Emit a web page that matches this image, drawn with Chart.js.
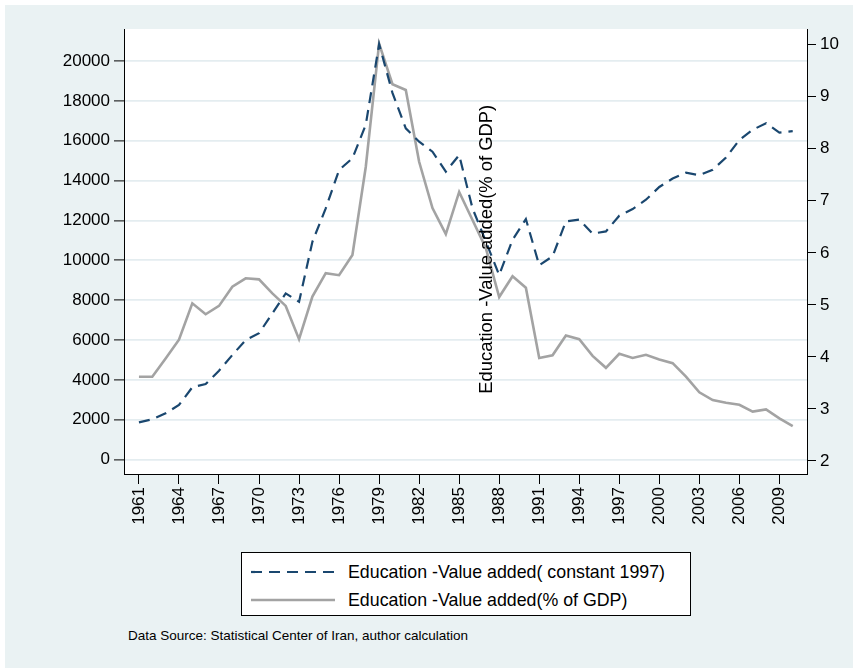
<!DOCTYPE html>
<html>
<head>
<meta charset="utf-8">
<script src="https://cdn.jsdelivr.net/npm/chart.js@4.4.1/dist/chart.umd.min.js"></script>
<style>
  body { margin: 0; background: #fff; }
  #frame { position: absolute; left: 5px; top: 5px; width: 848px; height: 663px; background: #eaf2f3; }
  #chart { position: absolute; left: 0; top: 0; }
  #legend { position: absolute; left: 241px; top: 552px; width: 448px; height: 62px; background: #fff;
            border: 1px solid #000; font-family: Arial, "Liberation Sans", sans-serif; font-size: 17.8px; color: #000; }
  .item { position: absolute; left: 0; height: 28px; line-height: 28px; white-space: nowrap; }
  .item svg { position: absolute; left: 8px; top: 0; }
  .item span { position: absolute; left: 106px; top: 0; }
  #note { position: absolute; left: 128px; top: 628px; font-family: Arial, "Liberation Sans", sans-serif;
          font-size: 13.5px; color: #000; white-space: nowrap; }
</style>
</head>
<body>
<div id="frame"></div>
<canvas id="chart" width="853" height="545"></canvas>
<div id="legend"></div>
<div id="note">Data Source: Statistical Center of Iran, author calculation</div>
<script>
// Years 1961-2010
const years = [1961, 1962, 1963, 1964, 1965, 1966, 1967, 1968, 1969, 1970,
  1971, 1972, 1973, 1974, 1975, 1976, 1977, 1978, 1979, 1980,
  1981, 1982, 1983, 1984, 1985, 1986, 1987, 1988, 1989, 1990,
  1991, 1992, 1993, 1994, 1995, 1996, 1997, 1998, 1999, 2000,
  2001, 2002, 2003, 2004, 2005, 2006, 2007, 2008, 2009, 2010];

// Education value added, constant 1997 prices (left axis)
const constantValues = [1870, 2020, 2320, 2740, 3630, 3790, 4460, 5250, 6000, 6340,
  7340, 8340, 7920, 10930, 12610, 14530, 15120, 16800, 20850, 18400,
  16620, 15950, 15450, 14450, 15280, 12610, 10940, 9260, 11030, 12070,
  9750, 10200, 11950, 12040, 11340, 11450, 12240, 12570, 13040, 13680,
  14100, 14400, 14270, 14540, 15160, 16040, 16550, 16880, 16410, 16480];

// Education value added, % of GDP (right axis)
const gdpShare = [3.62, 3.62, 3.97, 4.33, 5.03, 4.82, 4.98, 5.35, 5.51, 5.49,
  5.22, 4.98, 4.34, 5.16, 5.61, 5.57, 5.96, 7.65, 10.02, 9.24,
  9.13, 7.75, 6.86, 6.36, 7.17, 6.63, 6.09, 5.15, 5.55, 5.33,
  3.98, 4.03, 4.41, 4.34, 4.02, 3.79, 4.06, 3.98, 4.04, 3.95,
  3.88, 3.62, 3.32, 3.17, 3.12, 3.08, 2.95, 2.99, 2.82, 2.67];

const xTicks = [1961, 1964, 1967, 1970, 1973, 1976, 1979, 1982, 1985, 1988, 1991, 1994, 1997, 2000, 2003, 2006, 2009];
const leftTicks = [0, 2000, 4000, 6000, 8000, 10000, 12000, 14000, 16000, 18000, 20000];
const rightTicks = [2, 3, 4, 5, 6, 7, 8, 9, 10];

const constantLabel = "Education -Value added( constant 1997)";
const gdpLabel = "Education -Value added(% of GDP)";

const navy = "#1a476f";
const grey = "#a3a3a3";
const fontFamily = 'Arial, "Liberation Sans", sans-serif';

// white plot region
const plotBackground = {
  id: "plotBackground",
  beforeDraw(chart) {
    const { ctx, chartArea: a } = chart;
    ctx.save();
    ctx.fillStyle = "#fff";
    ctx.fillRect(a.left, a.top, a.right - a.left, a.bottom - a.top);
    ctx.restore();
  }
};

// the right axis title sits in the middle of the plot in the original
const strayTitle = {
  id: "strayTitle",
  afterDatasetsDraw(chart) {
    const { ctx, chartArea: a } = chart;
    ctx.save();
    ctx.translate(a.left + 0.5315 * (a.right - a.left), a.top + 0.495 * (a.bottom - a.top));
    ctx.rotate(-Math.PI / 2);
    ctx.font = "18.4px " + fontFamily;
    ctx.fillStyle = "#000";
    ctx.textAlign = "center";
    ctx.textBaseline = "middle";
    ctx.fillText(gdpLabel, 0, 0);
    ctx.restore();
  }
};

const ctx = document.getElementById("chart").getContext("2d");
const chart = new Chart(ctx, {
  type: "line",
  data: {
    datasets: [{
      label: constantLabel,
      data: years.map((yr, i) => ({ x: yr, y: constantValues[i] })),
      yAxisID: "yLeft",
      borderColor: navy,
      borderWidth: 2.2,
      borderDash: [11, 7],
      pointRadius: 0,
      tension: 0,
      fill: false,
    }, {
      label: gdpLabel,
      data: years.map((yr, i) => ({ x: yr, y: gdpShare[i] })),
      yAxisID: "yRight",
      borderColor: grey,
      borderWidth: 2.6,
      pointRadius: 0,
      tension: 0,
      fill: false,
    }],
  },
  options: {
    responsive: false,
    animation: false,
    devicePixelRatio: 1,
    layout: { padding: { top: 29, left: 0, right: 0, bottom: 0 } },
    plugins: {
      legend: { display: false },
      tooltip: { enabled: false },
    },
    scales: {
      x: {
        type: "linear",
        min: 1959.88,
        max: 2011.07,
        afterBuildTicks: (scale) => { scale.ticks = xTicks.map(v => ({ value: v })); },
        afterFit: (scale) => { scale.height = 71; },
        grid: { drawOnChartArea: false, drawTicks: true, tickLength: 10, tickColor: "#000", tickWidth: 1 },
        border: { display: true, color: "#000", width: 1 },
        ticks: {
          autoSkip: false,
          minRotation: 90,
          maxRotation: 90,
          padding: 3,
          color: "#000",
          font: { family: fontFamily, size: 17 },
          callback: (v) => String(v),
        },
      },
      yLeft: {
        type: "linear",
        position: "left",
        min: -722,
        max: 21606,
        afterBuildTicks: (scale) => { scale.ticks = leftTicks.map(v => ({ value: v })); },
        afterFit: (scale) => { scale.width = 124; },
        grid: { drawOnChartArea: true, color: "#e4edf0", lineWidth: 1.8, tickLength: 10, tickColor: "#000", tickWidth: 1 },
        border: { display: true, color: "#000", width: 1 },
        ticks: {
          padding: 4,
          color: "#000",
          font: { family: fontFamily, size: 17 },
          callback: (v) => String(v),
        },
      },
      yRight: {
        type: "linear",
        position: "right",
        min: 1.75,
        max: 10.301,
        afterBuildTicks: (scale) => { scale.ticks = rightTicks.map(v => ({ value: v })); },
        afterFit: (scale) => { scale.width = 46; },
        grid: { drawOnChartArea: false, tickLength: 9, tickColor: "#000", tickWidth: 1 },
        border: { display: true, color: "#000", width: 1 },
        ticks: {
          padding: 4,
          color: "#000",
          font: { family: fontFamily, size: 17 },
          callback: (v) => String(v),
        },
      },
    },
  },
  plugins: [plotBackground, strayTitle],
});

// Legend box built from the datasets
const legendEl = document.getElementById("legend");
chart.data.datasets.forEach((ds, i) => {
  const item = document.createElement("div");
  item.className = "item";
  item.style.top = (5 + i * 28) + "px";
  const dash = ds.borderDash ? ds.borderDash.join(",") : "none";
  item.innerHTML = `
    <svg width="86" height="28"><line x1="1" y1="14" x2="85" y2="14" stroke="${ds.borderColor}"
      stroke-width="${ds.borderWidth}" stroke-dasharray="${dash}"/></svg>
    <span>${ds.label}</span>
  `;
  legendEl.appendChild(item);
});
</script>
</body>
</html>
